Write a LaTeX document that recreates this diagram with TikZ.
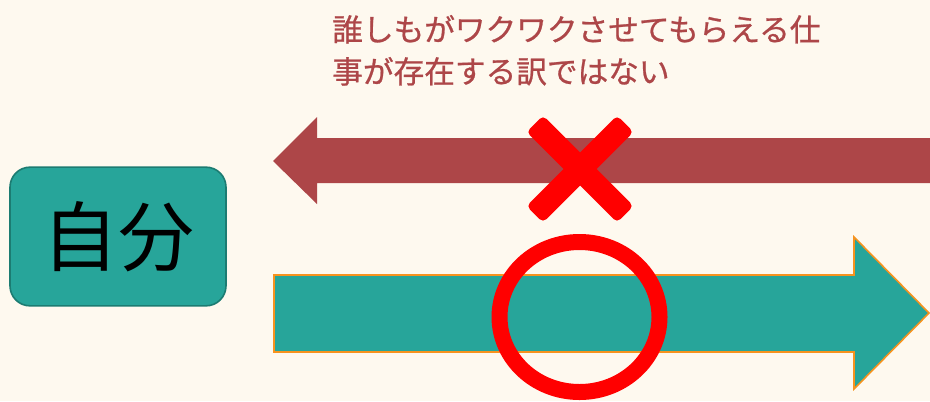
\documentclass[tikz,border=0pt]{standalone}
\usepackage{fontspec}
\newfontfamily\jp{Noto Sans CJK JP}
\newfontfamily\jpbold[FakeBold=0.8]{Noto Sans CJK JP}
\definecolor{bgc}{HTML}{FEF9EF}
\definecolor{tealc}{HTML}{27A59A}
\definecolor{tealdark}{HTML}{1C7C72}
\definecolor{redarrow}{HTML}{AD4648}
\definecolor{orangec}{HTML}{F7931E}
\definecolor{markred}{HTML}{FF0000}
\begin{document}
\begin{tikzpicture}[x=0.75pt,y=-0.75pt,
  selfbox/.style={draw=tealdark,line width=1.2pt,fill=tealc,rounded corners=15pt,
    minimum width=162pt,minimum height=104pt,inner sep=0pt,font=\jp\fontsize{57}{60}\selectfont},
  caption/.style={text=redarrow,font=\jpbold\fontsize{23}{30}\selectfont,inner sep=0pt,anchor=base west},
  xbar/.style={fill=markred,rounded corners=3.5pt,minimum width=96pt,minimum height=17.5pt,inner sep=0pt}]
\fill[bgc] (0,0) rectangle (930,401);
\useasboundingbox (0,0) rectangle (930,401);
% red arrow (left)
\fill[redarrow] (273,161) -- (317,117) -- (317,138) -- (931,138) -- (931,183) -- (317,183) -- (317,204) -- cycle;
% teal arrow (right)
\draw[fill=tealc,draw=orangec,line width=1.2pt] (274,275) -- (854,275) -- (854,237) -- (929,313) -- (854,389) -- (854,352) -- (274,352) -- cycle;
% self box
\node[selfbox] (self) at (118,236.5) {自分};
% caption
\node[caption] (l1) at (332,41) {誰しもがワクワクさせてもらえる仕};
\node[caption] (l2) at (332,83) {事が存在する訳ではない};
% cross mark
\node[xbar,rotate=-45] (xa) at (580,169) {};
\node[xbar,rotate=45] (xb) at (580,169) {};
% circle mark
\draw[markred,line width=12pt] (579.5,317) ellipse [x radius=80,y radius=75];
\end{tikzpicture}
\end{document}
